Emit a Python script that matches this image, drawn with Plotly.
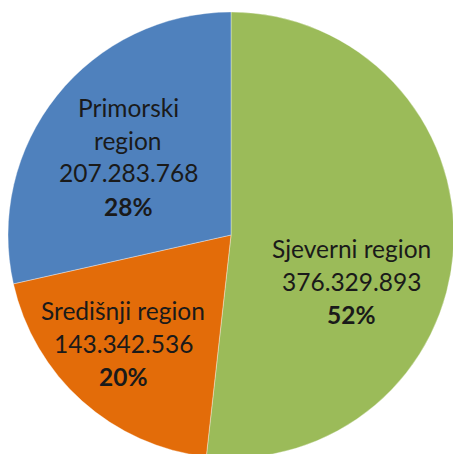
import plotly.graph_objects as go

regions = ["Sjeverni region", "Središnji region", "Primorski region"]
values = [376329893, 143342536, 207283768]
value_labels = ["376.329.893", "143.342.536", "207.283.768"]
pct_labels = ["52%", "20%", "28%"]
colors = ["#9BBB59", "#E36C09", "#4F81BD"]

W, H = 464, 470          # canvas slightly larger than the window; overflow hidden
cx, cy, r = 231, 235, 223

fig = go.Figure(go.Pie(
    labels=regions,
    values=values,
    sort=False,
    direction="clockwise",
    rotation=0,
    textinfo="none",
    hoverinfo="label+value+percent",
    marker=dict(colors=colors, line=dict(color="rgba(255,255,255,0.6)", width=0.6)),
    domain=dict(x=[(cx - r) / W, (cx + r) / W], y=[1 - (cy + r) / H, 1 - (cy - r) / H]),
    showlegend=False,
))

label_layout = [
    (351, 248, [regions[0], value_labels[0], "<b>" + pct_labels[0] + "</b>"]),
    (123, 310, [regions[1], value_labels[1], "<b>" + pct_labels[1] + "</b>"]),
    (128, 107, ["Primorski", "region", value_labels[2], "<b>" + pct_labels[2] + "</b>"]),
]
step = 33
for x_px, y0, lines in label_layout:
    for i, t in enumerate(lines):
        fig.add_annotation(
            x=x_px / W, y=1 - (y0 + i * step) / H, xref="paper", yref="paper",
            text=t, showarrow=False, xanchor="center", yanchor="middle",
            font=dict(family="Lato", size=24.5, color="#1a1a1a"),
        )

fig.update_layout(
    width=W, height=H,
    margin=dict(l=0, r=0, t=0, b=0),
    paper_bgcolor="white", plot_bgcolor="white",
)
fig.write_html(
    "out.html",
    config={"displayModeBar": False},
    post_script="document.body.style.margin='0';document.body.style.overflow='hidden';",
)
